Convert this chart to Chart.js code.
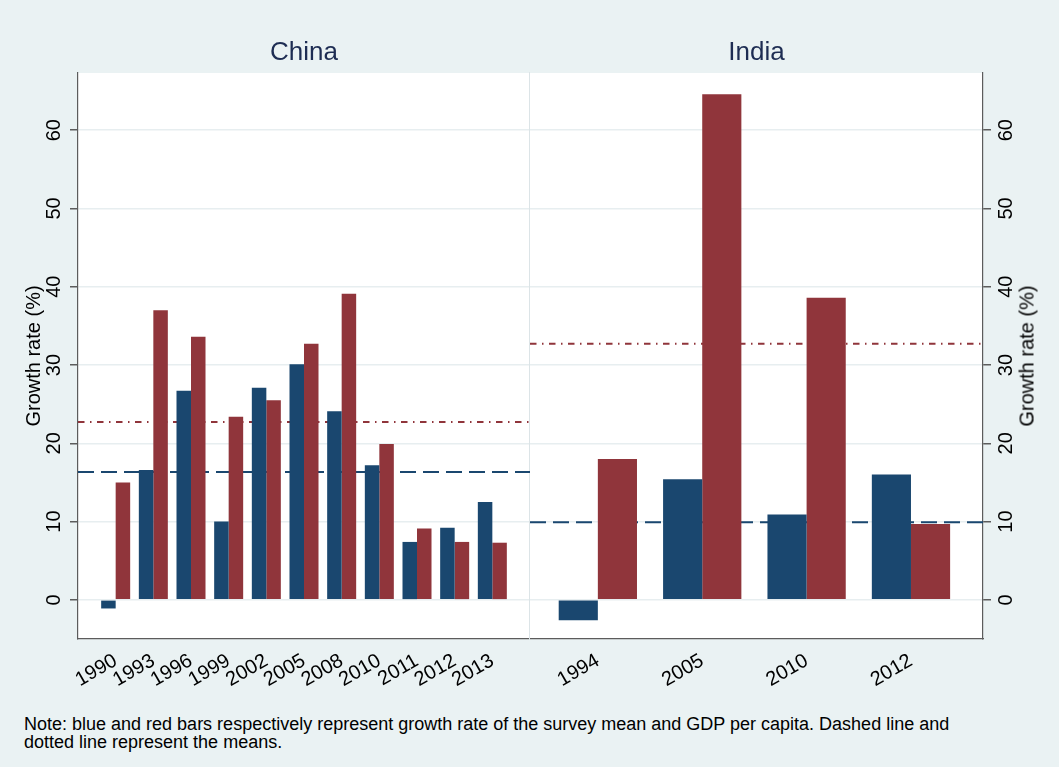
<!DOCTYPE html>
<html lang="en">
<head>
    <meta charset="UTF-8">
    <title>Growth rate: China and India</title>
    <script src="https://cdn.jsdelivr.net/npm/chart.js"></script>
    <style>
        body {
            margin: 0;
            background: #eaf2f3;
            font-family: 'Liberation Sans', Arial, sans-serif;
        }
        .wrap { position: relative; width: 1059px; height: 767px; overflow: hidden; }
        .panel { position: absolute; top: 0; height: 700px; }
        #chinaBox { left: 0; width: 530px; }
        #indiaBox { left: 530px; width: 529px; }
        .ytitle-right {
            position: absolute; left: 1027px; top: 356px;
            transform: translate(-50%, -50%) rotate(-90deg);
            font-size: 20px; white-space: nowrap; color: #000;
        }
        .note {
            position: absolute; left: 24px; top: 715px;
            font-size: 18px; line-height: 18px; color: #000;
        }
    </style>
</head>
<body>
<div class="wrap">
    <div class="panel" id="chinaBox"><canvas id="chinaChart"></canvas></div>
    <div class="panel" id="indiaBox"><canvas id="indiaChart"></canvas></div>
    <div class="ytitle-right">Growth rate (%)</div>
    <div class="note">Note: blue and red bars respectively represent growth rate of the survey mean and GDP per capita. Dashed line and<br>dotted line represent the means.</div>
</div>

<script>
    // data (growth rates, %)
    const chinaYears = ['1990', '1993', '1996', '1999', '2002', '2005', '2008', '2010', '2011', '2012', '2013'];
    const chinaSurvey = [-1.1, 16.6, 26.7, 10.0, 27.1, 30.1, 24.1, 17.2, 7.4, 9.2, 12.5];
    const chinaGdp = [15.0, 37.0, 33.6, 23.4, 25.5, 32.7, 39.1, 19.9, 9.1, 7.4, 7.3];

    const indiaYears = ['1994', '2005', '2010', '2012'];
    const indiaSurvey = [-2.6, 15.4, 10.9, 16.0];
    const indiaGdp = [18.0, 64.6, 38.6, 9.7];

    const yTicks = [0, 10, 20, 30, 40, 50, 60];

    const BLUE = '#1a476f';
    const RED = '#90353b';
    const AXIS = '#5c5c5c';
    const GRID = '#e7eef0';
    const FONT = "'Liberation Sans', Arial, sans-serif";

    const mean = a => a.reduce((s, v) => s + v, 0) / a.length;
    const points = vals => vals.map((v, i) => ({ x: i + 1, y: v }));

    // white plot region on the tinted page
    const plotBg = {
        id: 'plotBg',
        beforeDraw(chart) {
            const { ctx, chartArea: a } = chart;
            ctx.save();
            ctx.fillStyle = '#ffffff';
            ctx.fillRect(a.left, a.top, a.right - a.left, a.bottom - a.top);
            ctx.restore();
        }
    };

    function panelConfig(title, years, survey, gdp, xMin, xMax, side, groupWidth) {
        const isLeft = side === 'left';

        const meanLine = (v, color, dash) => ({
            type: 'line',
            data: [{ x: xMin, y: v }, { x: xMax, y: v }],
            borderColor: color,
            borderWidth: 2,
            borderDash: dash,
            pointRadius: 0,
            order: 1
        });

        const scales = {
            x: {
                type: 'linear',
                offset: false,
                min: xMin,
                max: xMax,
                afterBuildTicks: s => { s.ticks = years.map((_, i) => ({ value: i + 1 })); },
                ticks: {
                    autoSkip: false,
                    minRotation: 30,
                    maxRotation: 30,
                    padding: 2,
                    color: '#000',
                    font: { family: FONT, size: 20 },
                    callback: v => years[v - 1]
                },
                grid: { display: false, offset: false },
                border: { display: true, color: AXIS, width: 1.2 },
                afterFit: s => { s.height = 61; }
            },
            y: {
                position: side,
                min: -5,
                max: 67.3,
                afterBuildTicks: s => { s.ticks = yTicks.map(v => ({ value: v })); },
                ticks: {
                    autoSkip: false,
                    minRotation: 90,
                    maxRotation: 90,
                    crossAlign: 'center',
                    padding: 4,
                    color: '#000',
                    font: { family: FONT, size: 20 }
                },
                grid: { color: GRID, lineWidth: 1.5, tickColor: AXIS, tickLength: 8 },
                border: { color: AXIS, width: 1.2 },
                title: {
                    display: isLeft,
                    text: 'Growth rate (%)',
                    color: '#000',
                    font: { family: FONT, size: 20 },
                    padding: { top: 22, bottom: 0 }
                },
                afterFit: s => { s.width = isLeft ? 78 : 76; }
            }
        };

        if (isLeft) {
            // thin divider between the two panels
            scales.edge = {
                type: 'linear',
                position: 'right',
                display: true,
                ticks: { display: false },
                grid: { display: false },
                border: { display: true, color: '#dce4e7', width: 1.2 },
                afterFit: s => { s.width = 0; }
            };
        }

        return {
            type: 'bar',
            data: {
                datasets: [
                    {
                        label: 'Survey mean',
                        data: points(survey),
                        backgroundColor: BLUE,
                        borderWidth: 0,
                        categoryPercentage: groupWidth,
                        barPercentage: 1.0,
                        order: 0
                    },
                    {
                        label: 'GDP per capita',
                        data: points(gdp),
                        backgroundColor: RED,
                        borderWidth: 0,
                        categoryPercentage: groupWidth,
                        barPercentage: 1.0,
                        order: 0
                    },
                    meanLine(mean(survey), BLUE, [16, 7]),
                    meanLine(mean(gdp), RED, [6.5, 5.5, 1.5, 5.5])
                ]
            },
            options: {
                responsive: true,
                maintainAspectRatio: false,
                animation: false,
                layout: { padding: { top: 37.4, left: 0, right: 0, bottom: 0 } },
                plugins: {
                    legend: { display: false },
                    tooltip: { enabled: false },
                    title: {
                        display: true,
                        text: title,
                        fullSize: false,
                        color: '#1e2d53',
                        font: { family: FONT, size: 26, weight: 'normal' },
                        padding: { top: 0, bottom: 4.4 }
                    }
                },
                scales: scales
            },
            plugins: [plotBg]
        };
    }

    new Chart(document.getElementById('chinaChart'),
        panelConfig('China', chinaYears, chinaSurvey, chinaGdp, 0, 12, 'left', 0.77));
    new Chart(document.getElementById('indiaChart'),
        panelConfig('India', indiaYears, indiaSurvey, indiaGdp, 0.35, 4.69, 'right', 0.75));
</script>
</body>
</html>
